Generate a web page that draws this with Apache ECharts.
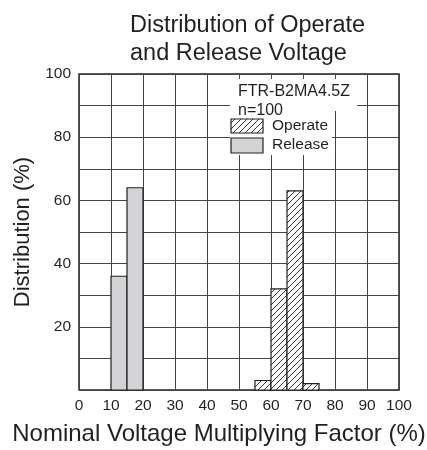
<!DOCTYPE html>
<html><head><meta charset="utf-8">
<script src="https://cdn.jsdelivr.net/npm/echarts/dist/echarts.min.js"></script>
<style>html,body{margin:0;padding:0;background:#fff}#c{width:427px;height:450px}</style>
</head><body><div id="c"></div>
<script>
// ---- data ----
const releaseBins = [10, 15];
const releaseValues = [36, 64];
const operateBins = [55, 60, 65, 70];
const operateValues = [3, 32, 63, 2];
const binWidth = 5;
const legendNames = ['Operate', 'Release'];
const modelText = 'FTR-B2MA4.5Z';
const sampleText = 'n=100';

const FONT = '"Liberation Sans", Arial, Helvetica, sans-serif';
const INK = '#231f20';

function hatch() {
  const c = document.createElement('canvas');
  c.width = 6; c.height = 6;
  const g = c.getContext('2d');
  g.fillStyle = '#fff'; g.fillRect(0, 0, 6, 6);
  g.strokeStyle = INK; g.lineWidth = 0.9;
  g.beginPath();
  g.moveTo(0, 6); g.lineTo(6, 0);
  g.moveTo(-1, 1); g.lineTo(1, -1);
  g.moveTo(5, 7); g.lineTo(7, 5);
  g.stroke();
  return c;
}
const hatchFill = { image: hatch(), repeat: 'repeat' };
const releaseFill = '#d3d4d6';

function binRender(fill) {
  return function (params, api) {
    const x0 = api.value(0), v = api.value(1);
    const pTop = api.coord([x0, v]);
    const pBot = api.coord([x0 + binWidth, 0]);
    return {
      type: 'rect',
      shape: { x: pTop[0], y: pTop[1], width: pBot[0] - pTop[0], height: pBot[1] - pTop[1] },
      style: { fill: fill, stroke: INK, lineWidth: 1.2 }
    };
  };
}

const chart = echarts.init(document.getElementById('c'), null, { renderer: 'canvas' });
chart.setOption({
  animation: false,
  backgroundColor: '#fff',
  textStyle: { fontFamily: FONT },
  title: {
    text: 'Distribution of Operate\nand Release Voltage',
    left: 125, top: 7,
    textStyle: { fontFamily: FONT, fontSize: 23.5, fontWeight: 'normal', color: INK, lineHeight: 28 }
  },
  grid: { left: 79, right: 28, top: 74, bottom: 60, show: true, borderColor: INK, borderWidth: 1.5,
    backgroundColor: 'transparent', containLabel: false, outerBoundsMode: 'none' },
  xAxis: {
    type: 'value', min: 0, max: 100, interval: 10,
    axisLine: { show: false }, axisTick: { show: false },
    axisLabel: { fontFamily: FONT, fontSize: 15.5, color: INK, margin: 8 },
    splitLine: { show: true, lineStyle: { color: '#444', width: 1 } },
    name: 'Nominal Voltage Multiplying Factor (%)', nameLocation: 'middle', nameGap: 32,
    nameTextStyle: { fontFamily: FONT, fontSize: 24, color: INK, padding: [0, 40, 0, 0] }
  },
  yAxis: {
    type: 'value', min: 0, max: 100, interval: 10,
    axisLine: { show: false }, axisTick: { show: false },
    axisLabel: { fontFamily: FONT, fontSize: 15.5, color: INK, margin: 8,
      formatter: v => (v % 20 === 0 && v > 0) ? String(v) : '' },
    splitLine: { show: true, lineStyle: { color: '#444', width: 1 } },
    name: 'Distribution (%)', nameLocation: 'middle', nameGap: 35,
    nameTextStyle: { fontFamily: FONT, fontSize: 22, color: INK }
  },
  series: [
    { type: 'custom', name: legendNames[0], renderItem: binRender(hatchFill),
      data: operateBins.map((b, i) => [b, operateValues[i]]), encode: { x: 0, y: 1 }, z: 3 },
    { type: 'custom', name: legendNames[1], renderItem: binRender(releaseFill),
      data: releaseBins.map((b, i) => [b, releaseValues[i]]), encode: { x: 0, y: 1 }, z: 3 }
  ],
  graphic: [
    { type: 'rect', z: 100, shape: { x: 230, y: 79, width: 127, height: 32 }, style: { fill: '#fff' } },
    { type: 'rect', z: 100, shape: { x: 230, y: 110, width: 102, height: 45 }, style: { fill: '#fff' } },
    { type: 'text', z: 101, x: 238, y: 92, style: { text: modelText, font: '16px ' + FONT, fill: INK, verticalAlign: 'middle' } },
    { type: 'text', z: 101, x: 238, y: 111, style: { text: sampleText, font: '16px ' + FONT, fill: INK, verticalAlign: 'middle' } },
    { type: 'rect', z: 101, shape: { x: 231, y: 119, width: 32, height: 14 }, style: { fill: hatchFill, stroke: INK, lineWidth: 1.2 } },
    { type: 'text', z: 101, x: 272, y: 126, style: { text: legendNames[0], font: '15.5px ' + FONT, fill: INK, verticalAlign: 'middle' } },
    { type: 'rect', z: 101, shape: { x: 231, y: 138, width: 32, height: 15 }, style: { fill: releaseFill, stroke: INK, lineWidth: 1.2 } },
    { type: 'text', z: 101, x: 272, y: 145, style: { text: legendNames[1], font: '15.5px ' + FONT, fill: INK, verticalAlign: 'middle' } }
  ]
});
</script>
</body></html>
